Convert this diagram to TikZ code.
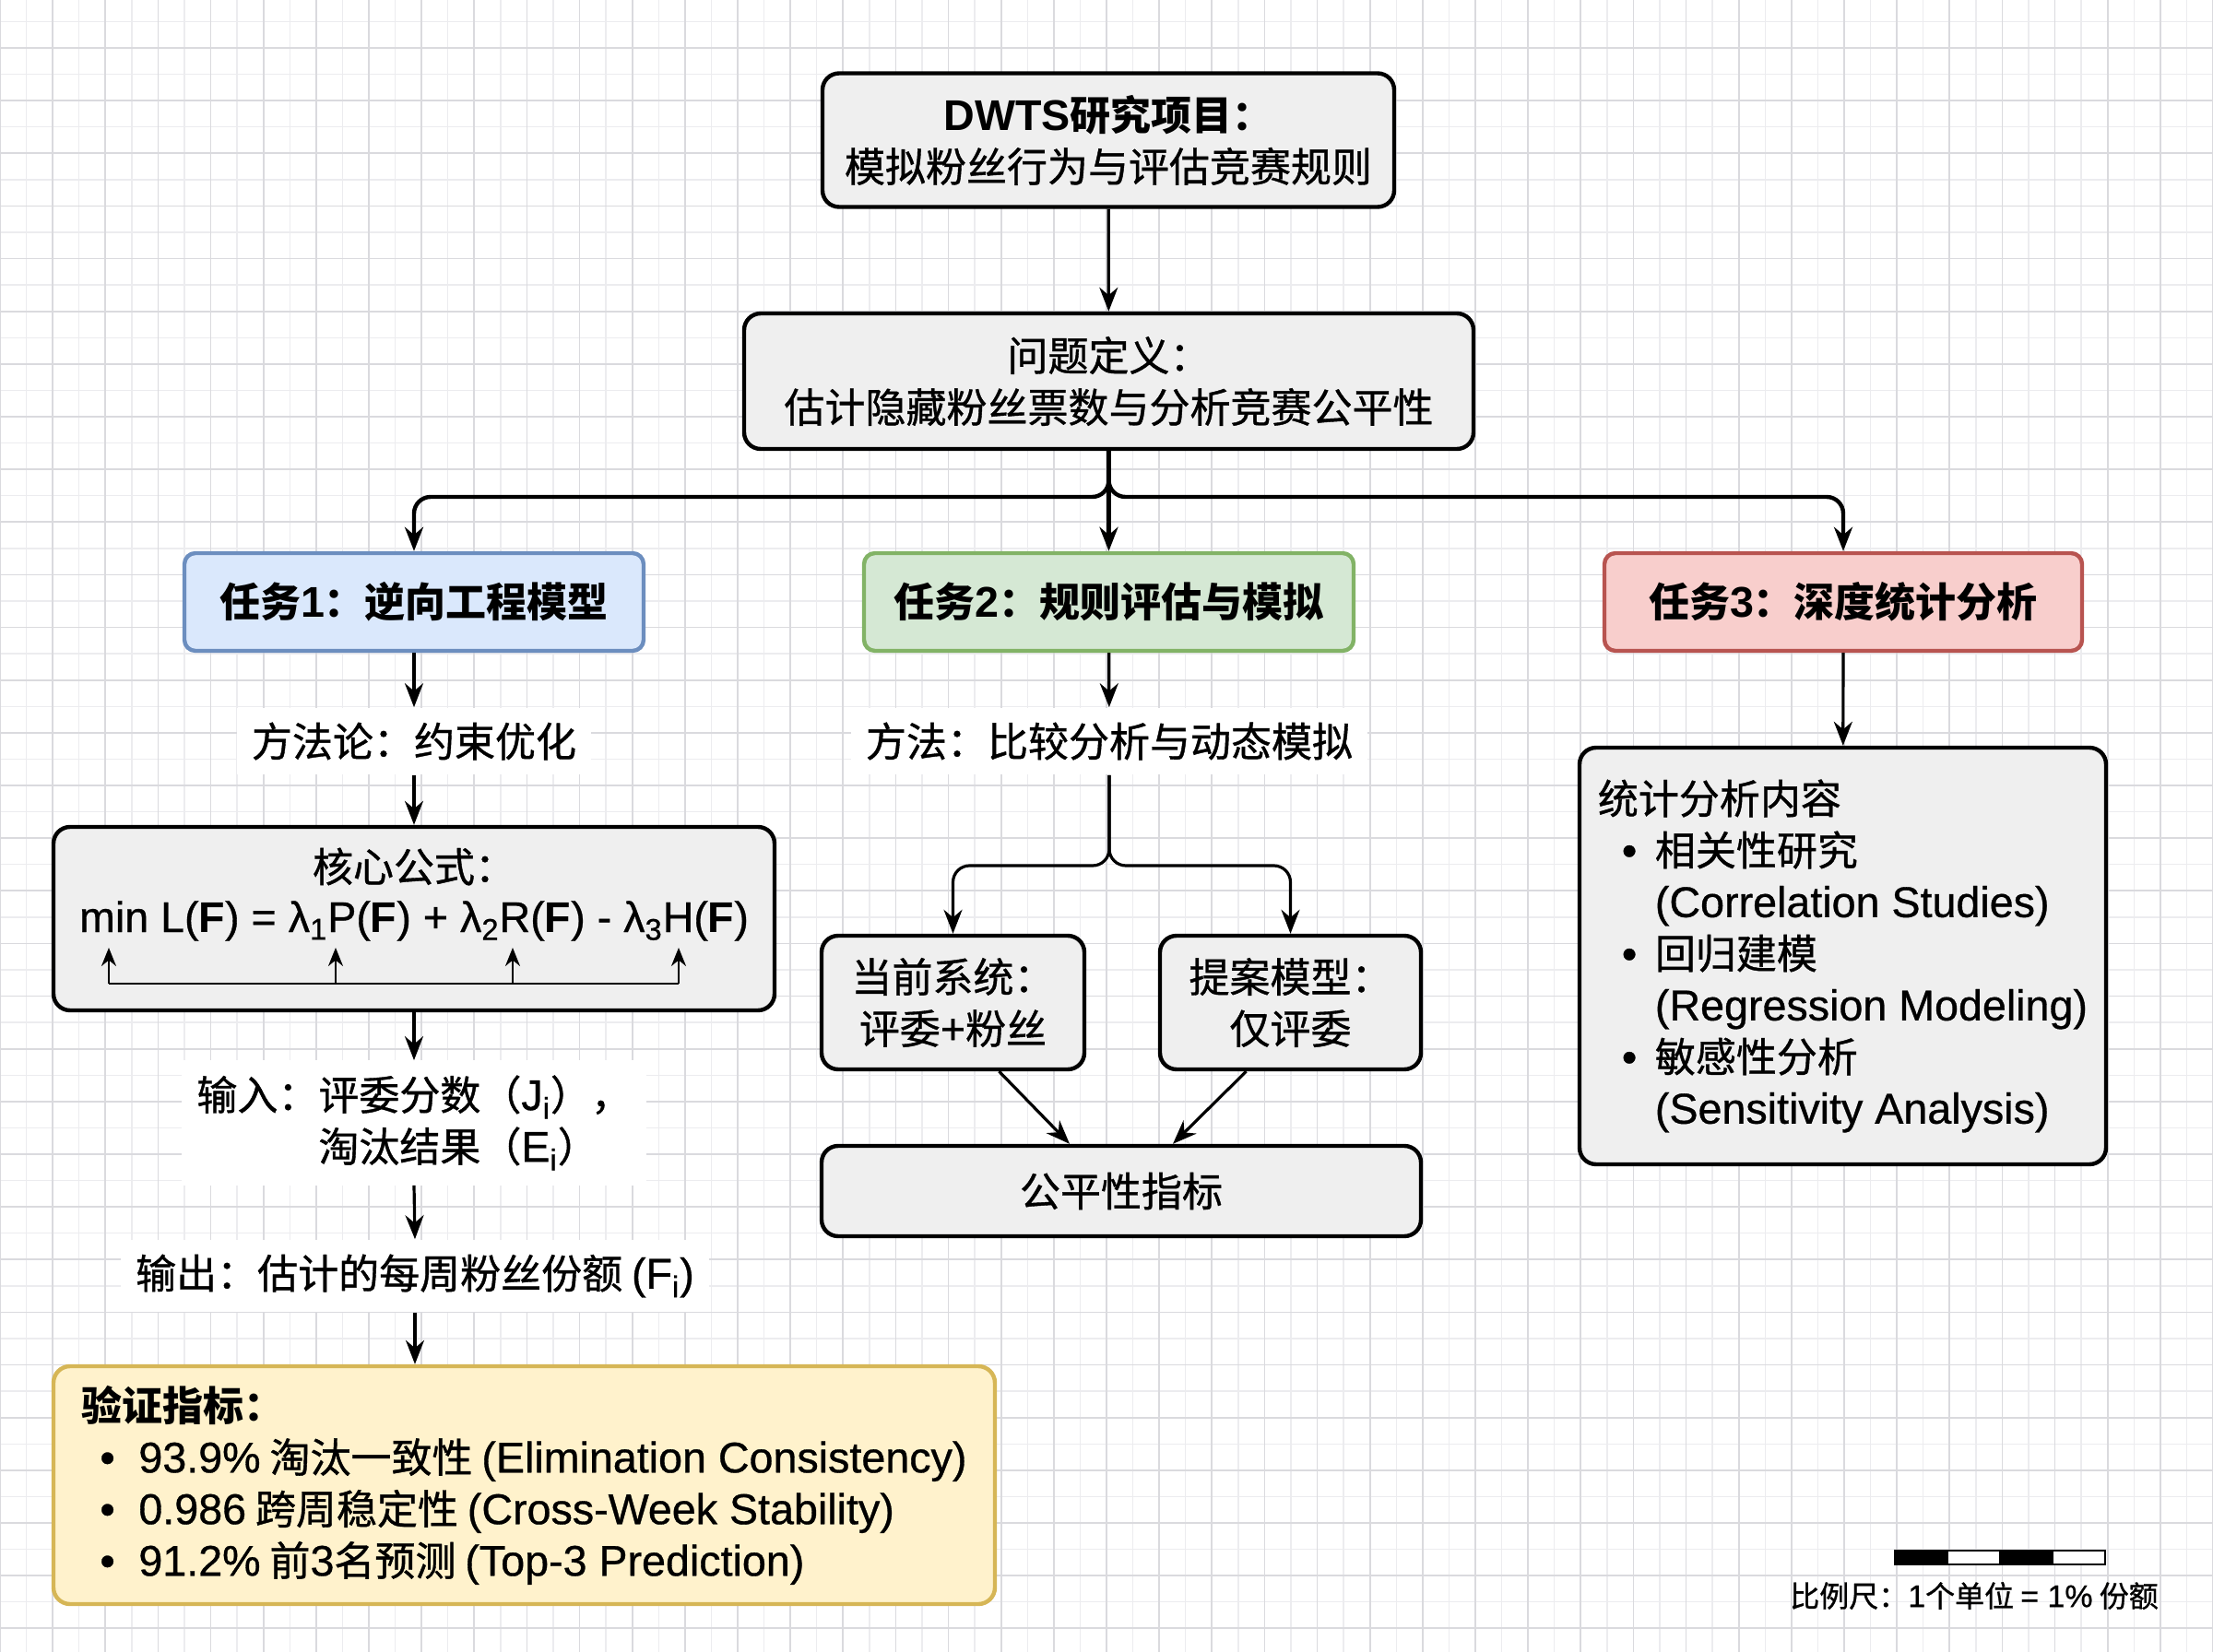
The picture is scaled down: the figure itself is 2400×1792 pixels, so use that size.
\documentclass[tikz,border=0pt]{standalone}
\usepackage{fontspec}
\setmainfont{Noto Sans CJK SC}[UprightFeatures={FakeBold=0.9}]
\newfontfamily\latinfont{Liberation Sans}[Scale=1.06, UprightFeatures={FakeBold=0.7}]
\usepackage{tikz}
\usetikzlibrary{arrows.meta, positioning, calc}
\definecolor{boxgray}{HTML}{EFEFEF}
\definecolor{blueline}{HTML}{6C8EBF}
\definecolor{bluefill}{HTML}{DAE8FC}
\definecolor{greenline}{HTML}{82B366}
\definecolor{greenfill}{HTML}{D5E8D4}
\definecolor{redline}{HTML}{B85450}
\definecolor{redfill}{HTML}{F8CECC}
\definecolor{yellowline}{HTML}{D6B656}
\definecolor{yellowfill}{HTML}{FFF2CC}
\definecolor{gridmajor}{HTML}{DADADE}
\definecolor{gridminor}{HTML}{ECECEF}
\newcommand{\entext}[1]{{\latinfont #1}}
\newcommand{\bulletat}[2]{\hspace*{#1}\makebox[#2][l]{\entext{\textbullet}}}

\begin{document}
\begin{tikzpicture}[x=0.5pt, y=-0.5pt,
    font=\fontsize{22}{28}\selectfont,
    greybox/.style={draw=black, line width=2.2pt, fill=boxgray, rounded corners=9pt, align=center, inner sep=0pt},
    taskbox/.style={line width=2.2pt, rounded corners=6pt, minimum height=53pt, inner sep=0pt, font=\fontsize{22}{28}\selectfont\bfseries},
    flowtext/.style={fill=white, inner sep=8pt, align=center},
    arr/.style={line width=1.6pt, -{Stealth[length=13pt, width=10pt]}},
    branch/.style={line width=2.2pt, rounded corners=9pt, -{Stealth[length=13pt, width=10pt]}},
    smallarr/.style={line width=1.3pt, -{Stealth[length=10pt, width=8pt]}}]

% background grid
\fill[white] (0,0) rectangle (2400,1792);
\useasboundingbox (0,0) rectangle (2400,1792);
\foreach \k in {0,...,84} \draw[gridminor, line width=0.7pt] (\k*28.571,0) -- (\k*28.571,1792);
\foreach \k in {1,...,63} \draw[gridminor, line width=0.7pt] (0,\k*28.571-5.14) -- (2400,\k*28.571-5.14);
\foreach \k in {0,...,42} \draw[gridmajor, line width=0.9pt] (\k*57.143,0) -- (\k*57.143,1792);
\foreach \k in {1,...,31} \draw[gridmajor, line width=0.9pt] (0,\k*57.143-5.14) -- (2400,\k*57.143-5.14);

% top
\node[greybox, minimum width=310pt, minimum height=72.5pt] (proj) at (1202,152)
    {\textbf{\entext{DWTS}研究项目：}\\模拟粉丝行为与评估竞赛规则};
\node[greybox, minimum width=395.5pt, minimum height=73.5pt] (prob) at (1202.5,413.5)
    {问题定义：\\估计隐藏粉丝票数与分析竞赛公平性};
\draw[arr] (proj) -- (prob);

% tasks
\node[taskbox, draw=blueline, fill=bluefill, minimum width=249pt] (t1) at (449,653) {任务\entext{1}：逆向工程模型};
\node[taskbox, draw=greenline, fill=greenfill, minimum width=265.5pt] (t2) at (1202.5,653) {任务\entext{2}：规则评估与模拟};
\node[taskbox, draw=redline, fill=redfill, minimum width=259pt] (t3) at (1999,653) {任务\entext{3}：深度统计分析};
\coordinate (split) at (1202,539);
\draw[branch] (prob.south) |- (t1.north |- split) -- (t1.north);
\draw[branch] (prob.south) |- (t3.north |- split) -- (t3.north);
\draw[branch] (prob.south) -- (t2.north);

% task 1
\node[flowtext] (m1) at (449,804) {方法论：约束优化};
\node[greybox, minimum width=391pt, minimum height=99.5pt] (core) at (449,996.5) {};
\node (coretitle) at (449,940) {核心公式：};
\node (coreeq) at (449,999) {\entext{min L(\textbf{F}) = λ\textsubscript{1}P(\textbf{F}) + λ\textsubscript{2}R(\textbf{F}) - λ\textsubscript{3}H(\textbf{F})}};
\coordinate (b1) at (118,1067); \coordinate (u1) at (118,1028);
\coordinate (b2) at (364,1067); \coordinate (u2) at (364,1028);
\coordinate (b3) at (556,1067); \coordinate (u3) at (556,1028);
\coordinate (b4) at (736,1067); \coordinate (u4) at (736,1028);
\draw[line width=1.3pt] (b1) -- (b4);
\foreach \i in {1,...,4} \draw[smallarr] (b\i) -- (u\i);
\node[flowtext, align=left, anchor=west] (inp) at (197,1218)
    {输入：评委分数（\entext{J\textsubscript{i}}），\\\phantom{输入：}淘汰结果（\entext{E\textsubscript{i}}）};
\node[flowtext] (outp) at (450,1384) {输出：估计的每周粉丝份额 \entext{(F\textsubscript{i})}};
\node[greybox, draw=yellowline, fill=yellowfill, align=left, minimum width=510.5pt, minimum height=129pt] (valid) at (568.5,1611)
    {\textbf{验证指标：}\\
     \bulletat{10pt}{21pt}\entext{93.9\%} 淘汰一致性 \entext{(Elimination Consistency)}\\
     \bulletat{10pt}{21pt}\entext{0.986} 跨周稳定性 \entext{(Cross-Week Stability)}\\
     \bulletat{10pt}{21pt}\entext{91.2\%} 前\entext{3}名预测 \entext{(Top-3 Prediction)}};
\draw[arr] (t1) -- (m1);
\draw[arr] (m1) -- (core);
\draw[arr] (core.south) -- (core.south |- inp.north);
\draw[arr] (core.south |- inp.south) -- (outp.north);
\draw[arr] (outp.south) -- (outp.south |- valid.north);

% task 2
\node[flowtext] (m2) at (1203,804) {方法：比较分析与动态模拟};
\node[greybox, minimum width=142.5pt, minimum height=72.5pt] (cur) at (1033.5,1087.5) {当前系统：\\评委\entext{+}粉丝};
\node[greybox, minimum width=141.5pt, minimum height=72.5pt] (prop) at (1399.5,1087.5) {提案模型：\\仅评委};
\node[greybox, minimum width=325pt, minimum height=49pt] (fair) at (1216,1292) {公平性指标};
\coordinate (split2) at (1203,939);
\draw[arr] (t2) -- (m2);
\draw[branch, line width=1.6pt] (m2.south) |- (cur.north |- split2) -- (cur.north);
\draw[branch, line width=1.6pt] (m2.south) |- (prop.north |- split2) -- (prop.north);
\draw[arr] ([xshift=25pt]cur.south) -- ([xshift=-28pt]fair.north);
\draw[arr] ([xshift=-24pt]prop.south) -- ([xshift=28pt]fair.north);

% task 3
\node[greybox, align=left, minimum width=285.5pt, minimum height=226pt] (stats) at (1998.5,1037)
    {统计分析内容\\
     \bulletat{13pt}{18pt}相关性研究\\
     \hspace*{31pt}\entext{(Correlation Studies)}\\
     \bulletat{13pt}{18pt}回归建模\\
     \hspace*{31pt}\entext{(Regression Modeling)}\\
     \bulletat{13pt}{18pt}敏感性分析\\
     \hspace*{31pt}\entext{(Sensitivity Analysis)}};
\draw[arr] (t3) -- (stats);

% scale bar
\foreach \x/\c in {2055/black, 2112/white, 2169/black, 2226/white}
    \draw[line width=1pt, fill=\c] (\x,1682) rectangle ++(57.25,15);
\node[font=\fontsize{16}{20}\selectfont] (scale) at (2141,1731) {比例尺：\entext{1}个单位 \entext{= 1\%} 份额};
\end{tikzpicture}
\end{document}
